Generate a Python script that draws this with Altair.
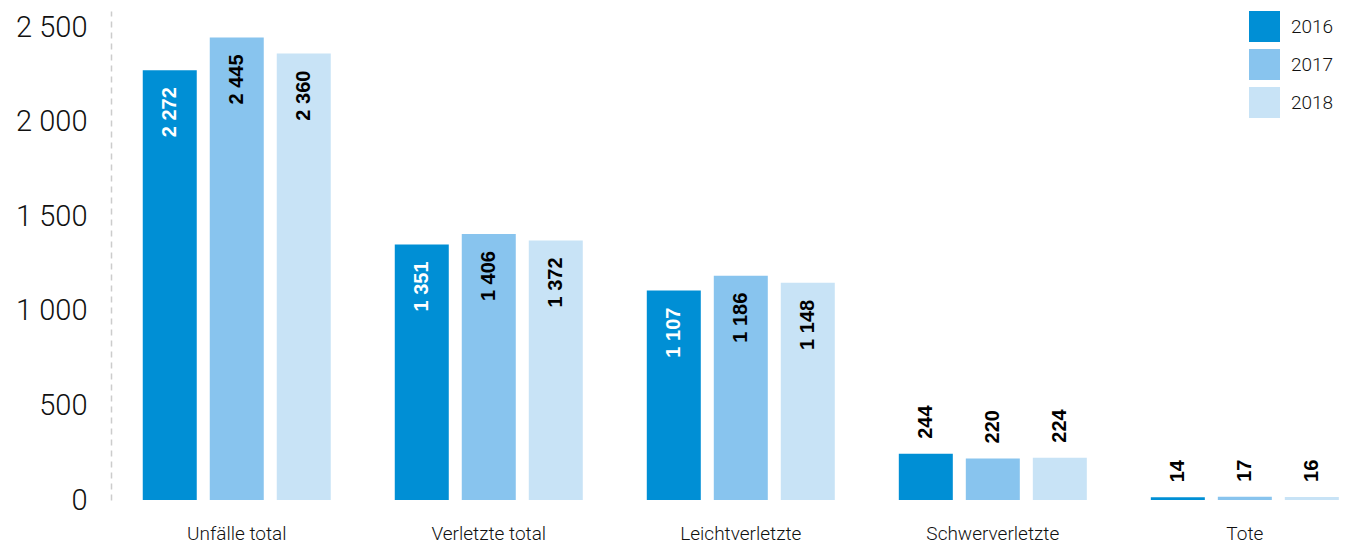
import altair as alt
import pandas as pd

categories = ["Unfälle total", "Verletzte total", "Leichtverletzte", "Schwerverletzte", "Tote"]
years = ["2016", "2017", "2018"]
values_2016 = [2272, 1351, 1107, 244, 14]
values_2017 = [2445, 1406, 1186, 220, 17]
values_2018 = [2360, 1372, 1148, 224, 16]
colors = ["#008fd5", "#88c4ee", "#c8e3f6"]

rows = []
for yr, vals in zip(years, [values_2016, values_2017, values_2018]):
    for c, v in zip(categories, vals):
        rows.append({
            "cat": c,
            "year": yr,
            "value": v,
            "label": f"{v:,}".replace(",", " "),
            "inside": v >= 1000,
        })
df = pd.DataFrame(rows)

FONT = "Roboto"
LABEL_FONT = "Liberation Sans"
TXT = "#111111"

x_enc = alt.X("cat:N", sort=categories, title=None,
              scale=alt.Scale(paddingInner=0.254, paddingOuter=0.105, align=0.6),
              axis=alt.Axis(domain=False, ticks=False, labelAngle=0, labelFontSize=19,
                            labelFont=FONT, labelFontWeight=300, labelColor=TXT,
                            labelPadding=24))
xo_enc = alt.XOffset("year:N", sort=years,
                     scale=alt.Scale(paddingInner=0.194, paddingOuter=0))
y_scale = alt.Scale(domain=[0, 2585], nice=False)

bars = alt.Chart(df).mark_bar().encode(
    x=x_enc,
    xOffset=xo_enc,
    y=alt.Y("value:Q", scale=y_scale, title=None,
            axis=alt.Axis(values=[0, 500, 1000, 1500, 2000, 2500], grid=False, ticks=False,
                          domain=True, domainColor="#cccccc", domainDash=[6, 5], domainWidth=1.5,
                          labelFontSize=29, labelFont=FONT, labelFontWeight=300,
                          labelColor=TXT, labelPadding=24,
                          labelExpr="replace(format(datum.value, ','), ',', ' ')")),
    color=alt.Color("year:N", sort=years, title=None,
                    scale=alt.Scale(domain=years, range=colors),
                    legend=alt.Legend(orient="none", legendX=1138, legendY=0,
                                      symbolType="square", symbolSize=961,
                                      symbolStrokeWidth=0, symbolOpacity=1,
                                      labelFontSize=19, labelFont=FONT, labelFontWeight=300,
                                      labelColor=TXT, labelOffset=11,
                                      rowPadding=7, padding=0)),
)

inside = alt.Chart(df).transform_filter("datum.inside").mark_text(
    angle=270, align="right", baseline="middle", dx=-17,
    font=LABEL_FONT, fontWeight="bold", fontSize=20,
).encode(
    x=alt.X("cat:N", sort=categories),
    xOffset=alt.XOffset("year:N", sort=years),
    y=alt.Y("value:Q", scale=y_scale),
    text="label:N",
    color=alt.condition(alt.datum.year == "2016", alt.value("white"), alt.value("black")),
)

outside = alt.Chart(df).transform_filter("!datum.inside").mark_text(
    angle=270, align="left", baseline="middle", dx=15,
    font=LABEL_FONT, fontWeight="bold", fontSize=20, color="black",
).encode(
    x=alt.X("cat:N", sort=categories),
    xOffset=alt.XOffset("year:N", sort=years),
    y=alt.Y("value:Q", scale=y_scale),
    text="label:N",
)

chart = alt.layer(bars, inside, outside).properties(
    width=1249, height=489,
    background="white",
    autosize=alt.AutoSizeParams(type="none"),
    padding={"left": 111, "top": 11, "right": 0, "bottom": 46},
).configure_view(stroke="transparent", strokeWidth=0)

chart.save("out.html", embed_options={"renderer": "svg", "actions": False})
